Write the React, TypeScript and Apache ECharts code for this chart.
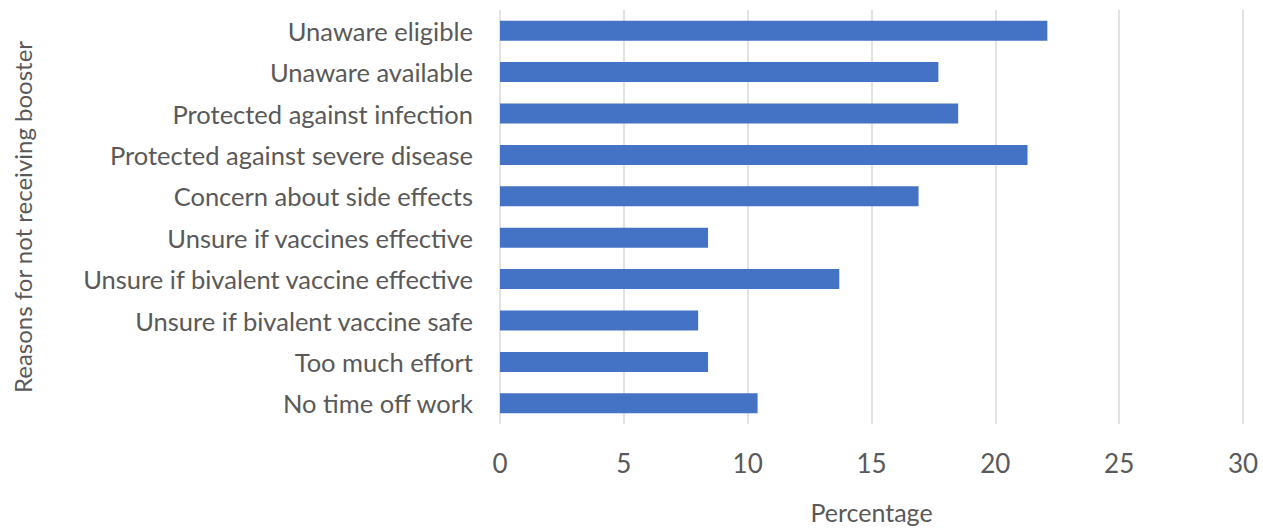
import React, { useEffect, useRef } from "react";
import * as echarts from "echarts";

const categories = [
  "Unaware eligible",
  "Unaware available",
  "Protected against infection",
  "Protected against severe disease",
  "Concern about side effects",
  "Unsure if vaccines effective",
  "Unsure if bivalent vaccine effective",
  "Unsure if bivalent vaccine safe",
  "Too much effort",
  "No time off work",
];
const values = [22.1, 17.7, 18.5, 21.3, 16.9, 8.4, 13.7, 8.0, 8.4, 10.4];

const FONT = "Lato";
const GRAY = "#595959";

export default function App() {
  const ref = useRef<HTMLDivElement>(null);
  useEffect(() => {
    if (!ref.current) return;
    const chart = echarts.init(ref.current, null, { renderer: "svg" });
    chart.setOption({
      animation: false,
      grid: {
        left: 500,
        right: 20,
        top: 10,
        bottom: 107,
        containLabel: false,
        outerBoundsMode: "none",
      },
      xAxis: {
        type: "value",
        min: 0,
        max: 30,
        interval: 5,
        name: "Percentage",
        nameLocation: "middle",
        nameGap: 75,
        nameTextStyle: { color: GRAY, fontFamily: FONT, fontSize: 25 },
        axisLine: { show: false },
        axisTick: { show: false },
        axisLabel: { color: GRAY, fontFamily: FONT, fontSize: 26, margin: 26 },
        splitLine: { show: true, lineStyle: { color: "#d9d9d9", width: 1.5 } },
      },
      yAxis: {
        type: "category",
        data: categories,
        inverse: true,
        name: "Reasons for not receiving booster",
        nameLocation: "middle",
        nameGap: 466,
        nameTextStyle: { color: GRAY, fontFamily: FONT, fontSize: 24 },
        axisLine: { show: false },
        axisTick: { show: false },
        axisLabel: { color: GRAY, fontFamily: FONT, fontSize: 25.5, margin: 27 },
        splitLine: { show: false },
      },
      series: [
        {
          type: "bar",
          data: values,
          barWidth: 20,
          itemStyle: { color: "#4472C4" },
        },
      ],
    });
    return () => chart.dispose();
  }, []);
  return (
    <div
      ref={ref}
      style={{ position: "fixed", left: 0, top: 0, width: 1263, height: 531, background: "#fff" }}
    />
  );
}
